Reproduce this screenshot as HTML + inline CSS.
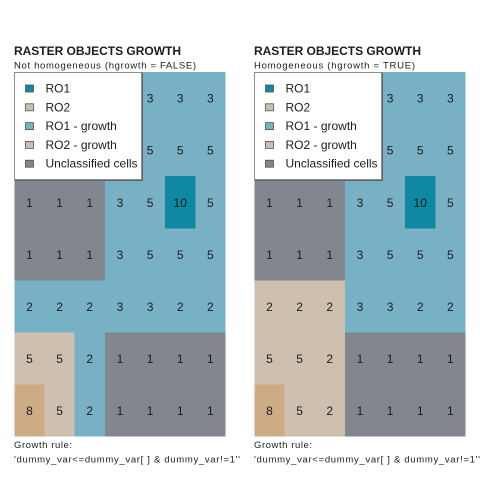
<!DOCTYPE html>
<html>
<head>
<meta charset="utf-8">
<style>
html,body{margin:0;padding:0;background:#fff;width:480px;height:480px;overflow:hidden}
svg{display:block}
text{font-family:"Liberation Sans",sans-serif;fill:#1c1c1c}
</style>
</head>
<body>
<svg id="chart" width="480" height="480" viewBox="0 0 480 480" xmlns="http://www.w3.org/2000/svg"></svg>
<script>
const cellValues = [
  [1,1,1,3,3,3,3],
  [1,1,1,3,5,5,5],
  [1,1,1,3,5,10,5],
  [1,1,1,3,5,5,5],
  [2,2,2,3,3,2,2],
  [5,5,2,1,1,1,1],
  [8,5,2,1,1,1,1]
];
const classesLeft = [
  ['U','U','U','G1','G1','G1','G1'],
  ['U','U','U','G1','G1','G1','G1'],
  ['U','U','U','G1','G1','R1','G1'],
  ['U','U','U','G1','G1','G1','G1'],
  ['G1','G1','G1','G1','G1','G1','G1'],
  ['G2','G2','G1','U','U','U','U'],
  ['R2','G2','G1','U','U','U','U']
];
const classesRight = [
  ['U','U','U','G1','G1','G1','G1'],
  ['U','U','U','G1','G1','G1','G1'],
  ['U','U','U','G1','G1','R1','G1'],
  ['U','U','U','G1','G1','G1','G1'],
  ['G2','G2','G2','G1','G1','G1','G1'],
  ['G2','G2','G2','U','U','U','U'],
  ['R2','G2','G2','U','U','U','U']
];
const classColors = {R1:'#0e88a3',R2:'#cdab85',G1:'#78b1c5',G2:'#cec0ae',U:'#81868f'};
const legendLabels = ['RO1','RO2','RO1 - growth','RO2 - growth','Unclassified cells'];
const legendKeys = ['R1','G2','G1','G2','U'];
const panelTitles = ['RASTER OBJECTS GROWTH','RASTER OBJECTS GROWTH'];
const panelSubtitles = ['Not homogeneous (hgrowth = FALSE)','Homogeneous (hgrowth = TRUE)'];
const subtitleWidths = [182,161];
const NS = 'http://www.w3.org/2000/svg';
const svg = document.getElementById('chart');
function make(parent, tag, attrs, txt){
  const e = document.createElementNS(NS, tag);
  for (const k in attrs) e.setAttribute(k, attrs[k]);
  if (txt !== undefined) e.textContent = txt;
  parent.appendChild(e);
  return e;
}
const gridLeft = 14.4, gridTop = 72, cellW = 30.15, cellH = 52.1;
function xScale(col){ return gridLeft + col * cellW; }
function yScale(row){ return gridTop + row * cellH; }

function drawPanel(offset, classes, title, subtitle, subW){
  const g = make(svg, 'g', {transform:'translate(' + offset + ',0)'});
  
  

  const t = make(g, 'text', {x:14, y:55, 'font-size':'12px', 'font-weight':'bold', textLength:167}, title);
  
  
  const st = make(g, 'text', {x:14, y:68.5, 'font-size':'9.5px', textLength:subW, lengthAdjust:'spacing'}, subtitle);
  
  

  classes.forEach(function(row, r){
    row.forEach(function(cls, c){
      const x0 = xScale(c), x1 = xScale(c + 1), y0 = yScale(r), y1 = yScale(r + 1);
      const cell = make(g, 'rect', {x:x0, y:y0, width:x1 - x0, height:y1 - y0, fill:classColors[cls], 'shape-rendering':'crispEdges'});
      
      
    });
  });
  cellValues.forEach(function(row, r){
    row.forEach(function(v, c){
      const lab = make(g, 'text', {x:xScale(c) + cellW / 2, y:yScale(r) + cellH / 2 + 4.5, 'font-size':'12px', 'text-anchor':'middle'}, String(v));
      
      
    });
  });

  const box = make(g, 'rect', {x:14.5, y:72.5, width:127, height:107, fill:'#fff', stroke:'#8a8f94', 'stroke-width':1});
  
  
  const sh = make(g, 'path', {d:'M142.5 72.5V180.5H14.5', fill:'none', stroke:'#5f6468', 'stroke-width':1});
  
  
  legendLabels.forEach(function(label, i){
    const cy = 88.5 + i * 18.8;
    const sw = make(g, 'rect', {x:25.5, y:cy - 3.5, width:8, height:7, fill:classColors[legendKeys[i]], stroke:'#4a555b', 'stroke-width':0.8});
    
    
    const lt = make(g, 'text', {x:45.5, y:cy + 4, 'font-size':'12px'}, label);
    
    
  });

  const gr = make(g, 'text', {x:14, y:448, 'font-size':'9.5px', textLength:58, lengthAdjust:'spacing'}, 'Growth rule:');
  
  
  const rt = make(g, 'text', {x:14, y:462.5, 'font-size':'9.5px', textLength:226, lengthAdjust:'spacing'}, "'dummy_var<=dummy_var[ ] & dummy_var!=1''");
  
  
}
drawPanel(0, classesLeft, panelTitles[0], panelSubtitles[0], subtitleWidths[0]);
drawPanel(240, classesRight, panelTitles[1], panelSubtitles[1], subtitleWidths[1]);
</script>
</body>
</html>
